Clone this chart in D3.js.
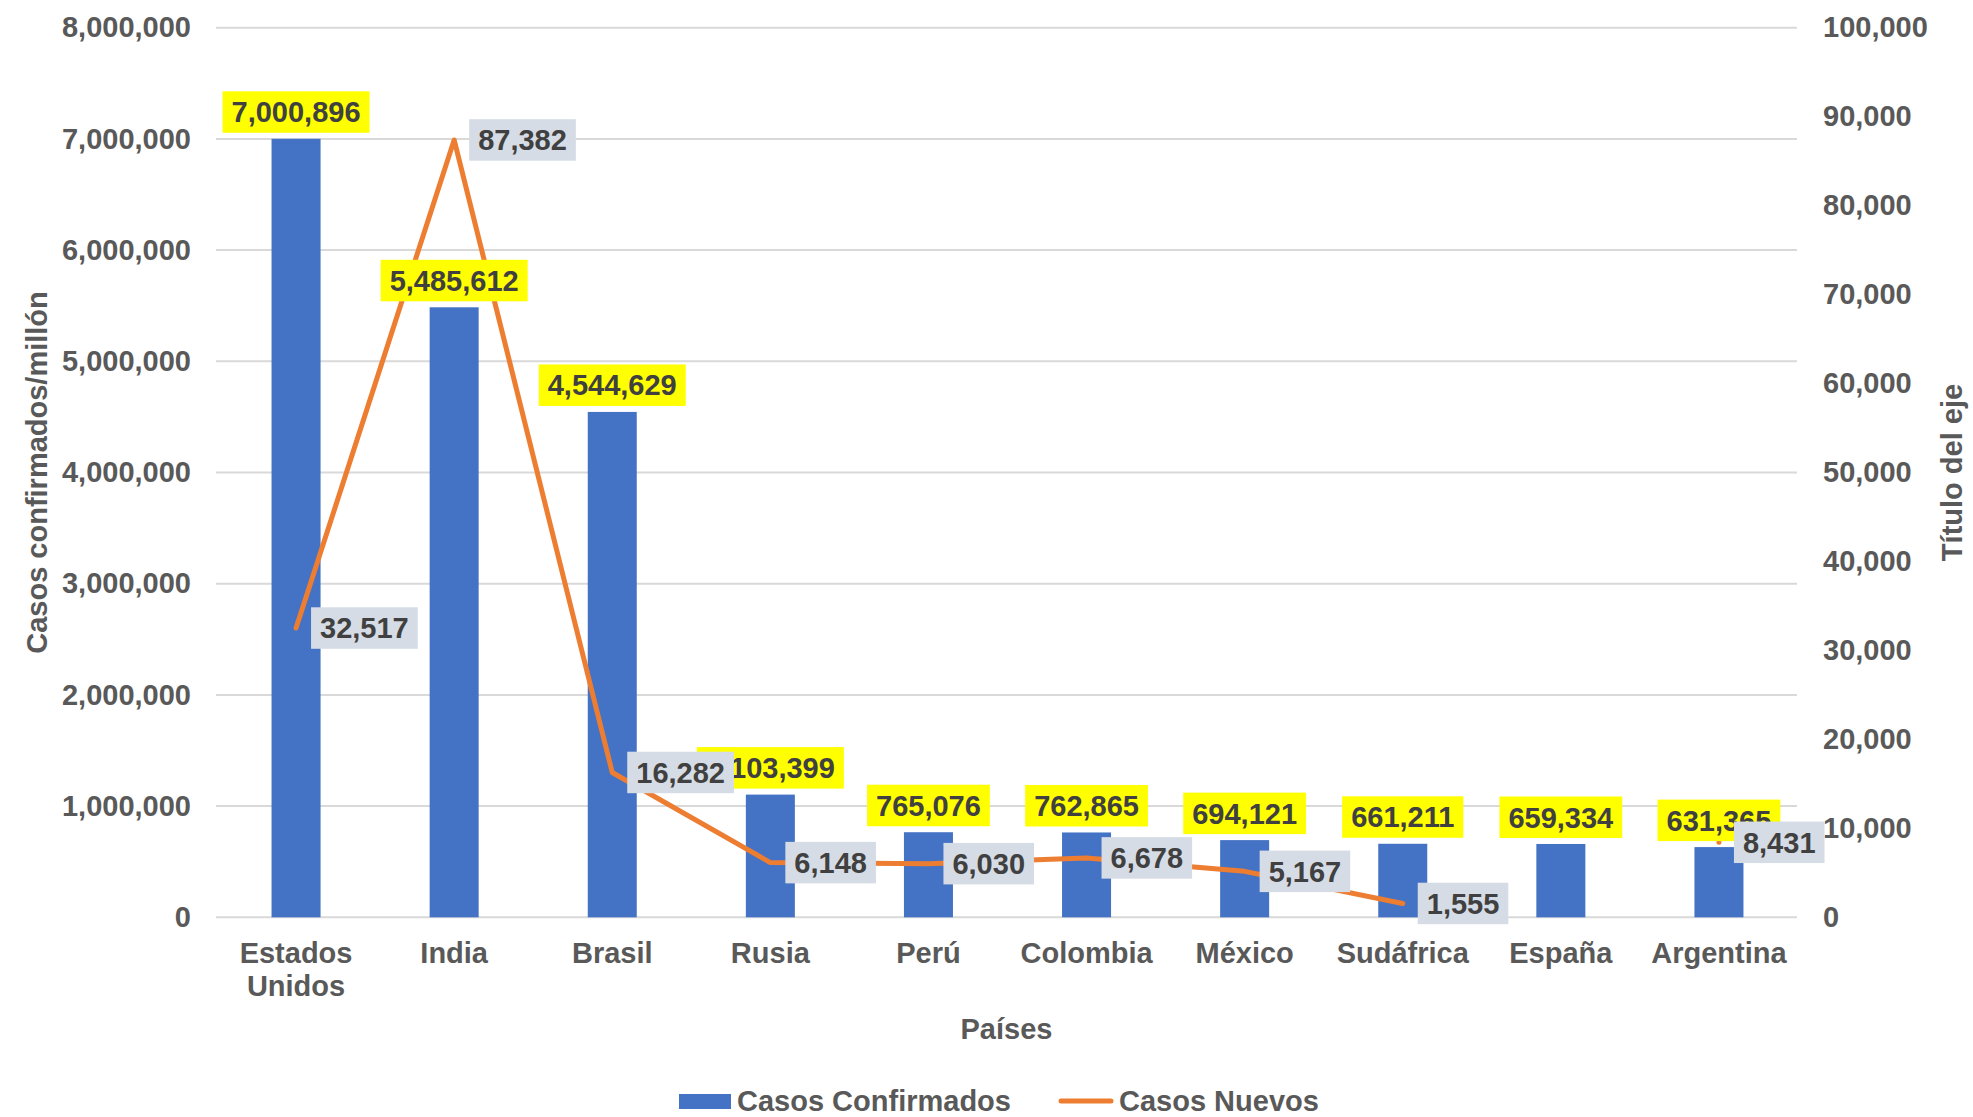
<!DOCTYPE html>
<html>
<head>
<meta charset="utf-8">
<script src="https://cdn.jsdelivr.net/npm/d3@7"></script>
<style>
  html, body { margin: 0; padding: 0; background: #fff; }
  svg { display: block; font-family: "Liberation Sans", Arial, sans-serif; font-weight: bold; }
</style>
</head>
<body>
<svg id="chart" width="1973" height="1117"></svg>
<script>
const categories = ["Estados Unidos", "India", "Brasil", "Rusia", "Perú", "Colombia", "México", "Sudáfrica", "España", "Argentina"];
const casosConfirmados = [7000896, 5485612, 4544629, 1103399, 765076, 762865, 694121, 661211, 659334, 631365];
const casosNuevos = [32517, 87382, 16282, 6148, 6030, 6678, 5167, 1555, null, 8431];
const leftTicks = [0, 1000000, 2000000, 3000000, 4000000, 5000000, 6000000, 7000000, 8000000];
const rightTicks = [0, 10000, 20000, 30000, 40000, 50000, 60000, 70000, 80000, 90000, 100000];
const seriesNames = ["Casos Confirmados", "Casos Nuevos"];
const axisTitles = { left: "Casos confirmados/millón", right: "Título del eje", bottom: "Países" };

const W = 1973, H = 1117;
const m = { left: 216, right: 1797, top: 27.7, bottom: 917.3 };
const FS = 29;
const fmt = d3.format(",");
const barColor = "#4472C4", lineColor = "#ED7D31";
const gridColor = "#D9D9D9", axisText = "#595959", labelText = "#404040";

const svg = d3.select("#chart");

const x = d3.scaleBand().domain(categories).range([m.left + 1, m.right + 1]).paddingInner(0.69).paddingOuter(0.345);
const yL = d3.scaleLinear().domain([0, 8000000]).range([m.bottom, m.top]);
const yR = d3.scaleLinear().domain([0, 100000]).range([m.bottom, m.top]);
const cx = c => x(c) + x.bandwidth() / 2;

// gridlines
svg.append("g").selectAll("line").data(leftTicks).join("line")
  .attr("x1", m.left).attr("x2", m.right)
  .attr("y1", d => yL(d)).attr("y2", d => yL(d))
  .attr("stroke", gridColor).attr("stroke-width", 2);

// left axis
const gL = svg.append("g").attr("transform", `translate(${m.left},0)`)
  .call(d3.axisLeft(yL).tickValues(leftTicks).tickFormat(fmt).tickSize(0).tickPadding(25));
gL.select(".domain").remove();
gL.selectAll("text").attr("font-size", FS).attr("font-family", "Liberation Sans, Arial").attr("font-weight", "bold").attr("fill", axisText);

// right axis
const gR = svg.append("g").attr("transform", `translate(${m.right},0)`)
  .call(d3.axisRight(yR).tickValues(rightTicks).tickFormat(fmt).tickSize(0).tickPadding(26));
gR.select(".domain").remove();
gR.selectAll("text").attr("font-size", FS).attr("font-family", "Liberation Sans, Arial").attr("font-weight", "bold").attr("fill", axisText);

// bottom axis
const gB = svg.append("g").attr("transform", `translate(0,${m.bottom})`)
  .call(d3.axisBottom(x).tickSize(0).tickPadding(0));
gB.select(".domain").remove();
gB.selectAll("text").each(function(d) {
  const t = d3.select(this);
  t.text(null).attr("font-size", FS).attr("font-family", "Liberation Sans, Arial").attr("font-weight", "bold")
    .attr("fill", axisText).attr("dy", null).attr("y", 0);
  const words = d.split(" ");
  words.forEach((w, i) => {
    t.append("tspan").attr("x", 0).attr("y", 45.7 + i * 33).text(w);
  });
});

// bars
svg.append("g").selectAll("rect").data(categories).join("rect")
  .attr("x", c => x(c)).attr("width", x.bandwidth())
  .attr("y", (c, i) => yL(casosConfirmados[i]))
  .attr("height", (c, i) => yL(0) - yL(casosConfirmados[i]))
  .attr("fill", barColor);

// line
const pts = categories.map((c, i) => ({ c, v: casosNuevos[i] }));
const line = d3.line().defined(d => d.v != null).x(d => cx(d.c)).y(d => yR(d.v));
svg.append("path").datum(pts).attr("d", line)
  .attr("fill", "none").attr("stroke", lineColor).attr("stroke-width", 5)
  .attr("stroke-linejoin", "round").attr("stroke-linecap", "round");

// label helper
function boxLabel(g, text, fill, place) {
  const grp = g.append("g");
  const rect = grp.append("rect").attr("fill", fill);
  const t = grp.append("text").text(text).attr("font-size", FS).attr("fill", labelText);
  const w = t.node().getComputedTextLength() + 18;
  const h = 41.5;
  const { left, cy } = place(w, h);
  rect.attr("x", left).attr("y", cy - h / 2).attr("width", w).attr("height", h);
  t.attr("x", left + 9).attr("y", cy + 10.3);
}

// bar labels (yellow)
const gBL = svg.append("g");
categories.forEach((c, i) => {
  boxLabel(gBL, fmt(casosConfirmados[i]), "#FFFF00", (w, h) => ({
    left: cx(c) - w / 2,
    cy: yL(casosConfirmados[i]) - 6 - h / 2
  }));
});

// line labels (grey)
const gLL = svg.append("g");
categories.forEach((c, i) => {
  if (casosNuevos[i] == null) return;
  boxLabel(gLL, fmt(casosNuevos[i]), "#D6DCE5", (w, h) => ({
    left: cx(c) + 15,
    cy: yR(casosNuevos[i])
  }));
});

// axis titles
svg.append("text").attr("transform", "translate(47,472.5) rotate(-90)")
  .attr("text-anchor", "middle").attr("font-size", FS).attr("fill", axisText).text(axisTitles.left);
svg.append("text").attr("transform", "translate(1962,472.5) rotate(-90)")
  .attr("text-anchor", "middle").attr("font-size", FS).attr("fill", axisText).text(axisTitles.right);
svg.append("text").attr("x", (m.left + m.right) / 2).attr("y", 1038.5)
  .attr("text-anchor", "middle").attr("font-size", FS).attr("fill", axisText).text(axisTitles.bottom);

// legend
const lg = svg.append("g");
lg.append("rect").attr("x", 679).attr("y", 1094).attr("width", 52).attr("height", 15).attr("fill", barColor);
lg.append("text").attr("x", 737).attr("y", 1110.5).attr("font-size", FS).attr("fill", axisText).text(seriesNames[0]);
lg.append("line").attr("x1", 1061).attr("x2", 1111).attr("y1", 1101).attr("y2", 1101)
  .attr("stroke", lineColor).attr("stroke-width", 5).attr("stroke-linecap", "round");
lg.append("text").attr("x", 1119).attr("y", 1110.5).attr("font-size", FS).attr("fill", axisText).text(seriesNames[1]);
</script>
</body>
</html>
